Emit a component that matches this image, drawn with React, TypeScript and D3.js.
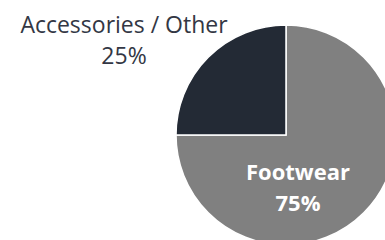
import React from "react";
import { pie, arc, PieArcDatum } from "d3";

const categories = ["Footwear", "Accessories / Other"];
const shares = [75, 25];
const colors = ["#808080", "#232a35"];

type Slice = { name: string; value: number; color: string };

const slices: Slice[] = categories.map((name, i) => ({
  name,
  value: shares[i],
  color: colors[i],
}));

export default function App() {
  const width = 385;
  const height = 240;
  const cx = 286;
  const cy = 135;
  const radius = 110;

  const pieGen = pie<Slice>()
    .value((d) => d.value)
    .sort(null)
    .startAngle(0)
    .endAngle(2 * Math.PI);
  const arcs = pieGen(slices);
  const arcGen = arc<PieArcDatum<Slice>>().innerRadius(0).outerRadius(radius);

  return (
    <svg
      width={width}
      height={height}
      style={{ position: "absolute", left: 0, top: 0, background: "#fff" }}
      fontFamily="'Open Sans', sans-serif"
    >
      <g transform={`translate(${cx},${cy})`}>
        {arcs.map((a) => (
          <path
            key={a.data.name}
            d={arcGen(a) || ""}
            fill={a.data.color}
            stroke="#fff"
            strokeWidth={1.5}
          />
        ))}
      </g>
      {/* inside label for the big slice */}
      <text textAnchor="middle" fill="#fff" fontWeight="bold" fontSize={22}>
        <tspan x={298} y={180}>{slices[0].name}</tspan>
        <tspan x={298} y={211}>{slices[0].value}%</tspan>
      </text>
      {/* outside label for the small slice */}
      <text textAnchor="middle" fill="#333744" fontSize={23}>
        <tspan x={124} y={33}>{slices[1].name}</tspan>
        <tspan x={124} y={64}>{slices[1].value}%</tspan>
      </text>
    </svg>
  );
}
